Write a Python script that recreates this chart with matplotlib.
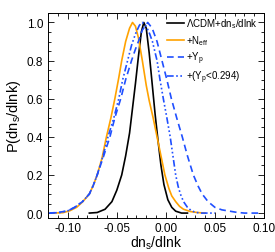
import matplotlib
matplotlib.use('Agg')
import matplotlib.pyplot as plt
from matplotlib.ticker import MultipleLocator, FormatStrFormatter

plt.rcParams['font.family'] = ['Liberation Sans', 'DejaVu Sans']
plt.rcParams['mathtext.fontset'] = 'custom'
plt.rcParams['mathtext.rm'] = 'Liberation Sans'
plt.rcParams['mathtext.it'] = 'Liberation Sans'

# valores
lcdm_x = [-0.078, -0.070, -0.062, -0.055, -0.050, -0.045, -0.041, -0.037, -0.034, -0.031,
          -0.028, -0.025, -0.0225, -0.020, -0.017, -0.014, -0.011, -0.008, -0.005, -0.002,
          0.002, 0.006, 0.010, 0.016, 0.022]
lcdm_y = [0.0, 0.003, 0.02, 0.06, 0.12, 0.20, 0.30, 0.42, 0.55, 0.68,
          0.82, 0.95, 1.0, 0.97, 0.84, 0.68, 0.52, 0.38, 0.25, 0.15,
          0.07, 0.03, 0.01, 0.0, 0.0]

neff_x = [-0.115, -0.105, -0.098, -0.091, -0.085, -0.078, -0.074, -0.070, -0.065, -0.061,
          -0.056, -0.052, -0.048, -0.045, -0.041, -0.037, -0.034, -0.031, -0.028, -0.024,
          -0.020, -0.017, -0.013, -0.009, -0.005, -0.001, 0.003, 0.006, 0.010, 0.014,
          0.018, 0.025, 0.032, 0.040]
neff_y = [0.0, 0.002, 0.012, 0.03, 0.058, 0.10, 0.145, 0.20, 0.29, 0.39,
          0.50, 0.60, 0.71, 0.80, 0.90, 0.97, 1.0, 0.98, 0.92, 0.80,
          0.67, 0.59, 0.50, 0.40, 0.30, 0.20, 0.13, 0.09, 0.06, 0.035,
          0.02, 0.008, 0.003, 0.0]

yp_x = [-0.120, -0.110, -0.100, -0.093, -0.085, -0.078, -0.074, -0.070, -0.064, -0.057,
        -0.052, -0.046, -0.041, -0.035, -0.031, -0.028, -0.024, -0.0185, -0.014, -0.009,
        -0.004, 0.001, 0.0056, 0.011, 0.0167, 0.022, 0.028, 0.033, 0.037, 0.043,
        0.050, 0.057, 0.065, 0.072, 0.080, 0.095]
yp_y = [0.0, 0.003, 0.012, 0.03, 0.06, 0.10, 0.145, 0.20, 0.29, 0.40,
        0.50, 0.60, 0.70, 0.80, 0.86, 0.90, 0.96, 1.0, 0.97, 0.90,
        0.80, 0.70, 0.60, 0.50, 0.40, 0.30, 0.20, 0.14, 0.10, 0.06,
        0.03, 0.017, 0.01, 0.004, 0.0, 0.0]

ypc_x = [-0.118, -0.108, -0.100, -0.093, -0.085, -0.078, -0.074, -0.070, -0.064, -0.059,
         -0.053, -0.048, -0.044, -0.039, -0.035, -0.031, -0.027, -0.024, -0.020, -0.0165,
         -0.0137, -0.009, -0.006, -0.0026, 0.001, 0.0044, 0.0072, 0.010, 0.0125, 0.0148,
         0.018, 0.022, 0.026, 0.031, 0.036, 0.050]
ypc_y = [0.0, 0.003, 0.012, 0.03, 0.06, 0.10, 0.145, 0.20, 0.30, 0.40,
         0.50, 0.60, 0.70, 0.80, 0.88, 0.94, 0.985, 1.0, 0.98, 0.94,
         0.90, 0.80, 0.70, 0.60, 0.50, 0.40, 0.30, 0.20, 0.14, 0.10,
         0.06, 0.03, 0.012, 0.003, 0.0, 0.0]

azul = '#1f4fff'
laranja = '#ffa200'

fig = plt.figure(figsize=(2.75, 2.53), dpi=100)
ax = fig.add_axes([0.175, 0.135, 0.785, 0.81])

ax.plot(lcdm_x, lcdm_y, color='black', lw=1.2, label=r'$\Lambda$CDM+dn$_{s}$/dlnk')
ax.plot(neff_x, neff_y, color=laranja, lw=1.2, label=r'+N$_{eff}$')
ax.plot(yp_x, yp_y, color=azul, lw=1.2, dashes=(4, 2.5), label=r'+Y$_{p}$')
ax.plot(ypc_x, ypc_y, color=azul, lw=1.2, dashes=(4, 1.5, 1, 1.5, 1, 1.5, 1, 1.5),
        label=r'+(Y$_{p}$<0.294)')

ax.set_xlim(-0.12, 0.10)
ax.set_ylim(-0.025, 1.05)
ax.xaxis.set_major_locator(MultipleLocator(0.05))
ax.xaxis.set_minor_locator(MultipleLocator(0.01))
ax.yaxis.set_major_locator(MultipleLocator(0.2))
ax.yaxis.set_minor_locator(MultipleLocator(0.05))
ax.xaxis.set_major_formatter(FormatStrFormatter('%.2f'))
ax.yaxis.set_major_formatter(FormatStrFormatter('%.1f'))
ax.tick_params(which='both', direction='in', top=True, right=True, labelsize=8.5, width=0.6)
ax.tick_params(which='major', length=4.5)
ax.tick_params(which='minor', length=2.2)
ax.tick_params(axis='x', pad=3)
for s in ax.spines.values():
    s.set_linewidth(0.7)

ax.set_xlabel(r'dn$_{s}$/dlnk', fontsize=10, labelpad=0)
ax.set_ylabel(r'P(dn$_{s}$/dlnk)', fontsize=10.5, labelpad=3)

ax.legend(loc='upper left', bbox_to_anchor=(0.535, 1.0), frameon=False, fontsize=7,
          handlelength=1.7, handletextpad=0.25, labelspacing=0.3, borderaxespad=0.0,
          borderpad=0.35)

fig.savefig('out.png', dpi=100)
